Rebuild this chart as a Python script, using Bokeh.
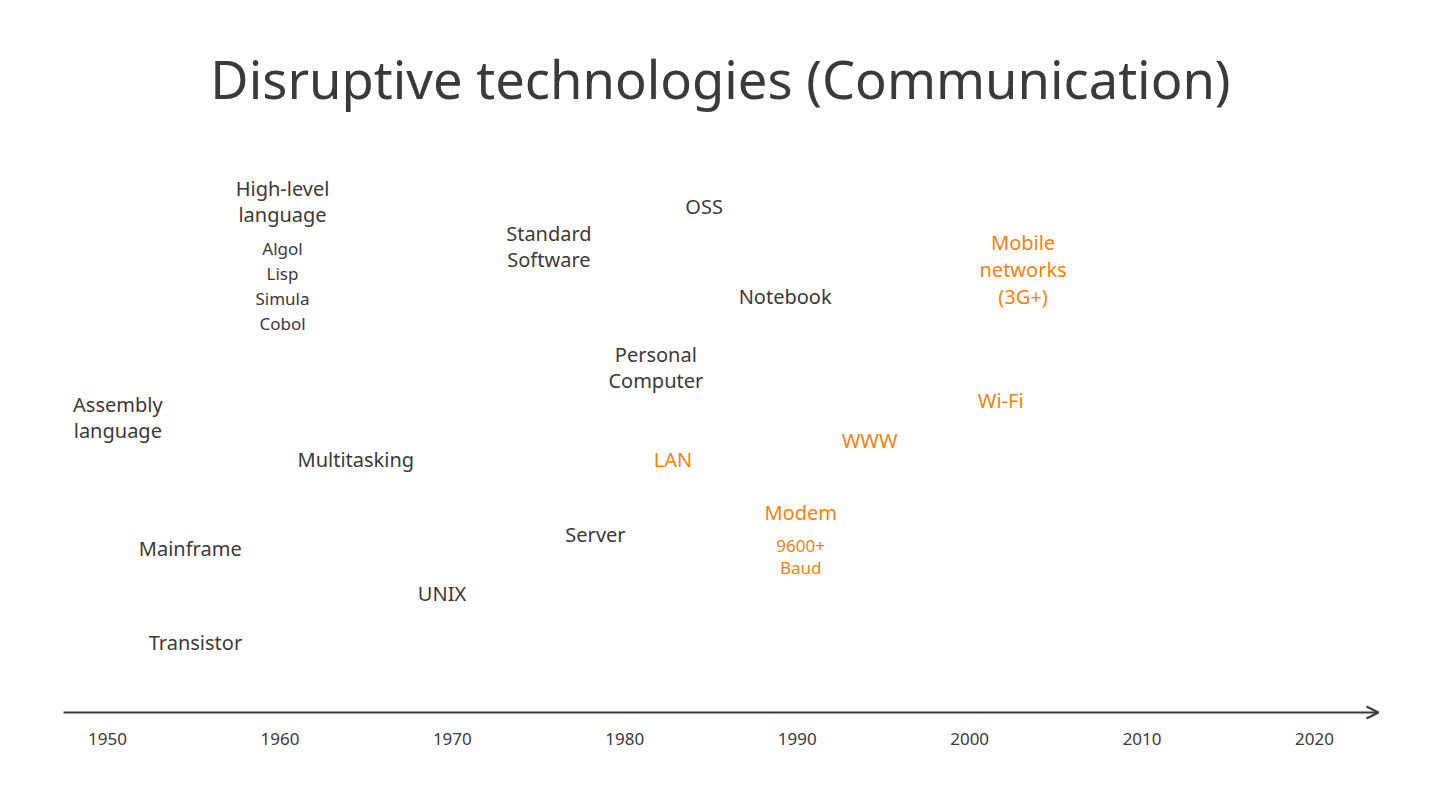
from bokeh.plotting import figure
from bokeh.models import Range1d, ColumnDataSource, Arrow, OpenHead, FixedTicker, Label
from bokeh.core.properties import value
from bokeh.embed import file_html
from bokeh.resources import INLINE

FONT = "Noto Sans"
GRAY = "#3a3a3a"
ORANGE = "#f5820f"

title_text = "Disruptive technologies (Communication)"
tick_years = [1950, 1960, 1970, 1980, 1990, 2000, 2010, 2020]

# general computing milestones (gray)
gen_labels = ["Assembly\nlanguage", "High-level\nlanguage", "Mainframe", "Transistor",
              "Multitasking", "UNIX", "Standard\nSoftware", "Server",
              "Personal\nComputer", "OSS", "Notebook"]
gen_years = [1950.6, 1960.15, 1954.8, 1955.1, 1964.4, 1969.4, 1975.6, 1978.3,
             1981.8, 1984.6, 1989.3]
gen_levels = [417, 201, 548, 642, 459, 593, 246, 534, 367, 206, 296]

# languages listed under "High-level language"
lang_labels = ["Algol", "Lisp", "Simula", "Cobol"]
lang_years = [1960.15, 1960.15, 1960.15, 1960.15]
lang_levels = [248, 273, 298, 323]

# communication milestones (orange)
comm_labels = ["LAN", "Modem", "WWW", "Wi-Fi", "Mobile\nnetworks\n(3G+)"]
comm_years = [1982.8, 1990.2, 1994.2, 2001.8, 2003.1]
comm_levels = [459, 512, 440, 400, 269]

baud_labels = ["9600+\nBaud"]
baud_years = [1990.2]
baud_levels = [556]

p = figure(width=1424, height=795, output_backend="svg", toolbar_location=None,
           x_range=Range1d(1943.795, 2026.379), y_range=Range1d(722, 0),
           y_axis_location=None, min_border_left=0, min_border_right=0,
           min_border_top=0, min_border_bottom=73)
p.outline_line_color = None
p.grid.visible = False
p.background_fill_color = "white"
p.border_fill_color = "white"

ax = p.xaxis[0]
ax.ticker = FixedTicker(ticks=tick_years)
ax.axis_line_color = None
ax.major_tick_line_color = None
ax.minor_tick_line_color = None
ax.major_tick_out = 0
ax.major_tick_in = 0
ax.major_label_standoff = 10
ax.major_label_text_font = FONT
ax.major_label_text_font_size = "17px"
ax.major_label_text_color = GRAY

p.add_layout(Arrow(end=OpenHead(size=12, line_color=GRAY, line_width=2),
                   x_start=1947.45, y_start=712, x_end=2023.71, y_end=712,
                   line_color=GRAY, line_width=2))

def add_text(labels, xs, ys, color, size, lh):
    src = ColumnDataSource(dict(x=xs, y=ys, t=labels))
    p.text(x="x", y="y", text="t", source=src, text_color=color,
           text_font=value(FONT), text_font_size=size, text_align="center",
           text_baseline="middle", text_line_height=lh)

add_text(gen_labels, gen_years, gen_levels, GRAY, "20px", 0.96)
add_text(lang_labels, lang_years, lang_levels, GRAY, "17px", 1.0)
add_text(comm_labels, comm_years, comm_levels, ORANGE, "20px", 0.99)
add_text(baud_labels, baud_years, baud_levels, ORANGE, "17px", 0.95)

p.add_layout(Label(x=1985.55, y=78, text=title_text, text_font=FONT,
                   text_font_size="52.5px", text_color=GRAY, text_align="center",
                   text_baseline="middle"))

open("out.html", "w").write(file_html(p, INLINE))
